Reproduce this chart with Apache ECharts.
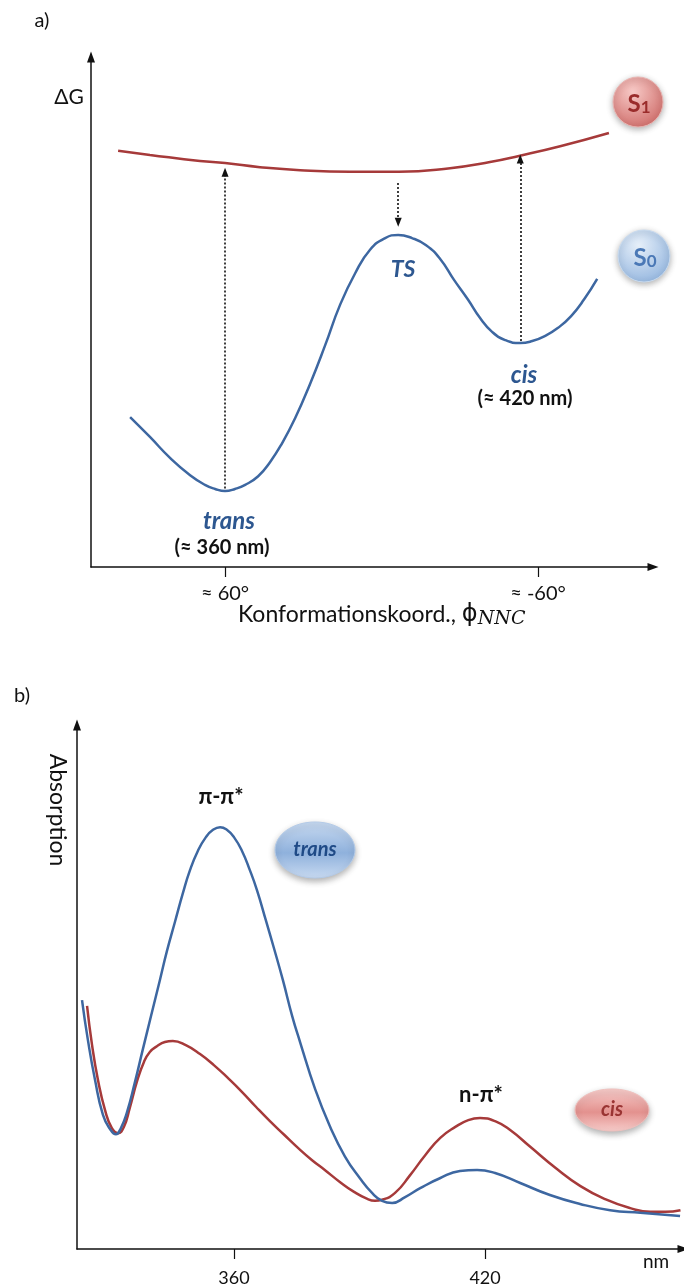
<!DOCTYPE html>
<html><head><meta charset="utf-8">
<script src="https://cdn.jsdelivr.net/npm/echarts@6/dist/echarts.min.js"></script>
<style>html,body{margin:0;padding:0;background:#fff}#c{width:684px;height:1287px}</style>
</head><body><div id="c"></div>
<script>
// ---------- Panel a: free energy vs conformational coordinate ----------
const s0Phi = [96.4, 88.8, 81.1, 73.4, 67.7, 63.8, 60, 56.2, 52.3, 47.3, 42.7, 38.1, 33.1, 27.4, 21.6, 15.9, 10.1, 4.4, -1.4, -6.4, -11.7, -17.1, -22.5, -27.8, -33.2, -37.8, -42.4, -47.4, -53.2, -57.8, -62.7, -67.7, -72.7, -77.7, -82.7];
const s0G   = [29.4, 25.5, 21.4, 18.0, 16.1, 15.3, 14.9, 15.3, 16.1, 17.8, 20.6, 24.3, 29.2, 35.9, 43.5, 51.4, 57.6, 62.2, 64.5, 65.1, 64.5, 63.1, 60.4, 56.3, 52.4, 48.8, 46.1, 44.5, 43.9, 44.3, 45.3, 46.9, 49.2, 52.5, 56.5];
const s1Phi = [101.0, 88.8, 69.6, 60, 46.6, 31.2, 12.1, -6.7, -26.3, -41.6, -52.7, -68.5, -87.2];
const s1G   = [81.6, 80.8, 79.6, 79.2, 78.4, 77.8, 77.5, 77.5, 78.2, 79.4, 80.6, 82.5, 85.1];
const phiTicks = [60, -60];
const phiTickLabels = ['≈ 60°', '≈ -60°'];
// vertical transitions: [phi, from G, to G]
const excTrans = [60, 15.4, 77.4];
const excCis   = [-53.2, 44.3, 80.0];
const relaxTS  = [-6.4, 75.3, 67.6];

// ---------- Panel b: absorption spectra ----------
const transNm  = [323.7, 325.1, 326.8, 328.7, 330.4, 331.8, 333.0, 334.4, 336.3, 338.2, 340.2, 342.3, 344.0, 345.9, 347.8, 349.5, 351.4, 353.3, 355.0, 356.7, 358.3, 360.0, 361.9, 363.8, 365.5, 367.6, 369.6, 371.7, 373.9, 375.8, 379.4, 383.0, 386.5, 390.1, 393.0, 395.4, 397.8, 400.9, 404.5, 409.2, 414.0, 418.1, 422.4, 428.4, 435.5, 442.7, 449.9, 457.1, 466.6];
const transAbs = [47.5, 39.9, 32.3, 25.6, 22.9, 21.9, 23.1, 26.0, 31.7, 38.0, 44.5, 51.3, 56.9, 62.4, 67.9, 72.3, 76.0, 78.6, 80.0, 80.5, 80.0, 78.6, 76.0, 72.3, 68.5, 62.8, 57.3, 51.3, 44.5, 39.5, 30.5, 23.3, 17.7, 13.5, 10.7, 9.2, 8.8, 9.9, 11.6, 13.5, 14.9, 15.1, 14.5, 12.6, 10.3, 8.6, 7.4, 6.9, 6.3];
const cisNm    = [324.9, 326.1, 327.5, 329.2, 330.8, 332.3, 333.7, 335.1, 336.8, 338.5, 339.9, 341.6, 343.5, 345.4, 348.5, 351.9, 355.2, 358.6, 361.9, 365.3, 368.6, 372.0, 375.3, 378.6, 382.0, 385.3, 388.7, 392.0, 393.7, 395.4, 398.5, 402.1, 405.7, 409.3, 412.9, 416.0, 418.8, 422.4, 426.0, 430.8, 436.8, 442.8, 448.7, 454.7, 459.5, 463.1, 466.7];
const cisAbs   = [46.4, 38.9, 32.3, 26.5, 23.1, 22.1, 23.3, 26.9, 31.9, 35.7, 37.6, 38.7, 39.5, 39.7, 38.9, 37.2, 35.1, 32.6, 30.0, 27.1, 24.4, 21.8, 19.3, 17.0, 14.9, 12.8, 10.9, 9.5, 9.2, 9.4, 10.7, 14.1, 17.9, 21.2, 23.3, 24.6, 25.0, 24.4, 22.7, 19.5, 15.5, 12.0, 9.5, 7.8, 7.1, 7.1, 7.4];
const nmTicks = [360, 420];

const zip = (a, b) => a.map((v, i) => [v, b[i]]);
const BLUE = '#3d67a1', RED = '#a63a3a', TXTBLUE = '#2d5790';
const FONT = 'Lato';

const axisArrow = {show: true, onZero: false, symbol: ['none', 'triangle'], symbolSize: [8, 11], lineStyle: {color: '#111', width: 1.5}};
const hiddenY = (gi) => ({type: 'value', gridIndex: gi, min: 0, max: 100, axisLine: axisArrow, axisTick: {show: false}, axisLabel: {show: false}, splitLine: {show: false}});

function arrowLine(a) {
  return [{coord: [a[0], a[1]], symbol: 'none'}, {coord: [a[0], a[2]], symbol: 'triangle'}];
}
function txt(x, y, text, size, opts, rot) {
  return {type: 'text', x: x, y: y, rotation: rot || 0, silent: true,
    style: Object.assign({text: text, fontFamily: FONT, fontSize: size, fill: '#111', align: 'center', verticalAlign: 'middle'}, opts || {})};
}
function badge(cx, cy, r, inner, outer, border, color, num) {
  return {type: 'group', silent: true, children: [
    {type: 'circle', shape: {cx: cx, cy: cy, r: r}, style: {
      fill: new echarts.graphic.RadialGradient(0.4, 0.3, 0.75, [{offset: 0, color: inner}, {offset: 1, color: outer}]),
      stroke: border, lineWidth: 1, shadowBlur: 6, shadowOffsetY: 2, shadowColor: 'rgba(0,0,0,0.3)'}},
    {type: 'text', x: cx + 1, y: cy, style: {text: '{s|S}{n|' + num + '}', align: 'center', verticalAlign: 'middle',
      rich: {s: {fontFamily: FONT, fontSize: 24, fontWeight: 'bold', fill: color, lineHeight: 28, verticalAlign: 'bottom'},
             n: {fontFamily: FONT, fontSize: 17, fontWeight: 'bold', fill: color, lineHeight: 22, verticalAlign: 'bottom'}}}}
  ]};
}
function pill(cx, cy, rx, ry, top, bottom, border, text, color) {
  return {type: 'group', silent: true, children: [
    {type: 'ellipse', shape: {cx: cx, cy: cy, rx: rx, ry: ry}, style: {
      fill: new echarts.graphic.LinearGradient(0, 0, 0, 1, [{offset: 0, color: top}, {offset: 0.55, color: bottom}, {offset: 1, color: top}]),
      stroke: border, lineWidth: 1, shadowBlur: 6, shadowOffsetY: 3, shadowColor: 'rgba(0,0,0,0.3)'}},
    {type: 'text', x: cx, y: cy, style: {text: text, fontFamily: FONT, fontSize: 20, fontWeight: 'bold', fontStyle: 'italic', fill: color, align: 'center', verticalAlign: 'middle'}}
  ]};
}

const chart = echarts.init(document.getElementById('c'), null, {renderer: 'canvas'});
chart.setOption({
  animation: false,
  backgroundColor: '#fff',
  textStyle: {fontFamily: FONT},
  grid: [
    {left: 91, top: 57, width: 562, height: 510},
    {left: 77, top: 725, width: 606, height: 524}
  ],
  xAxis: [
    {type: 'value', gridIndex: 0, min: -104.1, max: 111.4, inverse: true,
     axisLine: axisArrow,
     axisTick: {show: true, customValues: phiTicks, length: 10, lineStyle: {color: '#111', width: 1.2}},
     axisLabel: {show: true, customValues: phiTicks, margin: 17, fontSize: 20, color: '#111', fontFamily: FONT,
                 formatter: v => phiTickLabels[phiTicks.indexOf(v)] || ''},
     splitLine: {show: false}},
    {type: 'value', gridIndex: 1, min: 322.5, max: 467.3,
     axisLine: axisArrow,
     axisTick: {show: true, customValues: nmTicks, length: 10, lineStyle: {color: '#111', width: 1.2}},
     axisLabel: {show: true, customValues: nmTicks, margin: 20, fontSize: 18, color: '#111', fontFamily: FONT},
     splitLine: {show: false}}
  ],
  yAxis: [hiddenY(0), hiddenY(1)],
  series: [
    {type: 'line', name: 'S1', xAxisIndex: 0, yAxisIndex: 0, data: zip(s1Phi, s1G), smooth: true, symbol: 'none',
     lineStyle: {color: RED, width: 2.5}, silent: true},
    {type: 'line', name: 'S0', xAxisIndex: 0, yAxisIndex: 0, data: zip(s0Phi, s0G), smooth: true, symbol: 'none',
     lineStyle: {color: BLUE, width: 2.5}, silent: true,
     markLine: {silent: true, symbolSize: [7, 9], label: {show: false},
       lineStyle: {color: '#111', type: [2, 2], width: 1.6},
       data: [arrowLine(excTrans), arrowLine(excCis), arrowLine(relaxTS)]}},
    {type: 'line', name: 'cis', xAxisIndex: 1, yAxisIndex: 1, data: zip(cisNm, cisAbs), smooth: true, symbol: 'none',
     lineStyle: {color: RED, width: 2.5}, silent: true},
    {type: 'line', name: 'trans', xAxisIndex: 1, yAxisIndex: 1, data: zip(transNm, transAbs), smooth: true, symbol: 'none',
     lineStyle: {color: BLUE, width: 2.5}, silent: true}
  ],
  graphic: [
    txt(42, 21, 'a)', 20),
    txt(69, 97, 'ΔG', 21),
    txt(403, 270, 'TS', 23, {fontWeight: 'bold', fontStyle: 'italic', fill: TXTBLUE}),
    txt(229, 521, 'trans', 24, {fontWeight: 'bold', fontStyle: 'italic', fill: TXTBLUE}),
    txt(222, 548, '(≈ 360 nm)', 20, {fontWeight: 'bold'}),
    txt(524, 375, 'cis', 24, {fontWeight: 'bold', fontStyle: 'italic', fill: TXTBLUE}),
    txt(525, 399, '(≈ 420 nm)', 20, {fontWeight: 'bold'}),
    {type: 'text', x: 238, y: 615, silent: true, style: {text: '{a|Konformationskoord., }{b|ϕ}{c|NNC}', align: 'left', verticalAlign: 'middle',
      rich: {a: {fontFamily: FONT, fontSize: 23, fill: '#111', lineHeight: 28, verticalAlign: 'middle'},
             b: {fontFamily: 'DejaVu Sans', fontSize: 24, fill: '#111', lineHeight: 28, verticalAlign: 'middle'},
             c: {fontFamily: 'DejaVu Serif', fontStyle: 'italic', fontSize: 19, fill: '#111', lineHeight: 20, verticalAlign: 'bottom'}}}},
    badge(638, 102, 25, '#f7c9c6', '#cf6d6a', '#e9b5b2', '#9a2c2b', '1'),
    badge(644, 256, 26, '#e6eff9', '#94b6df', '#c9dbef', '#4a78b6', '0'),
    txt(22, 696, 'b)', 20),
    txt(57, 810, 'Absorption', 23, {}, -Math.PI / 2),
    txt(221, 797, 'π-π*', 22, {fontWeight: 'bold'}),
    txt(481, 1095, 'n-π*', 22, {fontWeight: 'bold'}),
    pill(315, 850, 40, 28, '#c8daf1', '#8fb1dc', '#b4cbe8', 'trans', '#1f4a86'),
    pill(612, 1110, 37, 21, '#f7cdcb', '#e3918e', '#efc0bd', 'cis', '#9a3433'),
    txt(656, 1262, 'nm', 19)
  ]
});
</script></body></html>
